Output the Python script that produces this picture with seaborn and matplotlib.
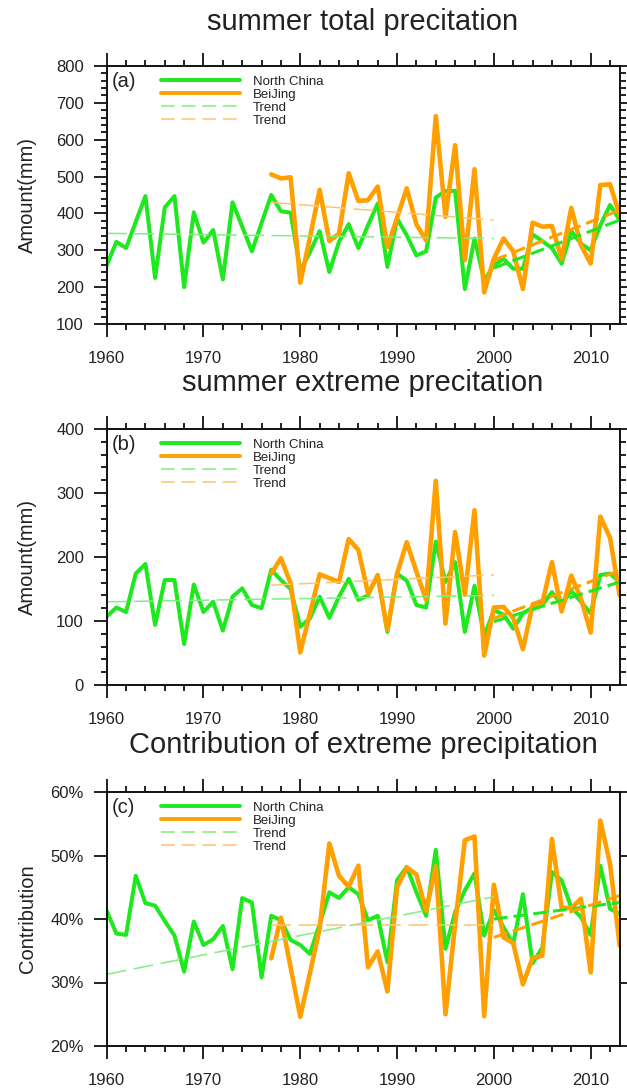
import matplotlib

matplotlib.use("Agg")

import matplotlib.pyplot as plt
import pandas as pd
import seaborn as sns
from matplotlib.lines import Line2D
from matplotlib.ticker import FuncFormatter, MultipleLocator, NullLocator

GREEN = "#1ee81e"
ORANGE = "#ffa000"
LIGHT_GREEN = "#80ee80"
LIGHT_ORANGE = "#ffc470"
TEXT = "#222222"

YEARS_NC = list(range(1960, 2014))
YEARS_BJ = list(range(1977, 2014))

TOTAL_NC = [259, 323, 306, 377, 447, 225, 416, 447, 200, 403,
            321, 355, 221, 430, 364, 297, 374, 450, 406, 402,
            245, 295, 352, 241, 323, 371, 306, 368, 427, 255,
            386, 341, 286, 297, 443, 461, 461, 195, 332, 218,
            259, 277, 250, 250, 343, 325, 306, 264, 352, 318,
            300, 368, 423, 382]
TOTAL_BJ = [506, 495, 498,
            212, 335, 464, 325, 345, 509, 434, 436, 473, 309,
            388, 468, 370, 327, 664, 391, 585, 273, 520, 186,
            277, 332, 297, 195, 375, 364, 366, 277, 415, 314,
            264, 477, 479, 395]

EXTREME_NC = [107, 121, 114, 174, 189, 94, 164, 164, 64, 157,
              114, 130, 85, 138, 151, 125, 120, 180, 164, 150,
              91, 104, 138, 105, 138, 166, 133, 140, 172, 83,
              174, 163, 125, 121, 224, 161, 192, 83, 155, 76,
              117, 110, 88, 112, 121, 125, 145, 126, 147, 130,
              112, 172, 174, 161]
EXTREME_BJ = [174, 198, 159,
              51, 112, 173, 167, 161, 228, 211, 143, 171, 86,
              174, 223, 177, 133, 319, 96, 239, 141, 273, 46,
              121, 122, 105, 56, 125, 128, 192, 115, 171, 135,
              82, 263, 230, 140]

CONTRIB_NC = [41.3, 37.7, 37.5, 46.8, 42.5, 42.1, 39.7, 37.4, 31.7, 39.6,
              35.9, 36.8, 38.9, 32.1, 43.3, 42.6, 30.8, 40.5, 39.8, 36.7,
              35.9, 34.5, 39.2, 44.2, 43.3, 45.0, 43.9, 39.8, 40.5, 33.2,
              46.1, 48.2, 44.2, 40.5, 50.9, 35.3, 41.1, 44.5, 47.2, 37.4,
              41.4, 38.7, 36.1, 43.9, 33.0, 35.5, 47.4, 46.1, 41.8, 40.3,
              37.5, 48.4, 41.6, 40.8]
CONTRIB_BJ = [33.8, 40.2, 32.4,
              24.6, 31.5, 38.5, 51.9, 46.8, 45.1, 48.4, 32.4, 34.9, 28.6,
              45.0, 48.1, 47.0, 41.3, 48.3, 25.0, 39.2, 52.4, 53.0, 24.7,
              45.4, 37.1, 36.2, 29.7, 33.9, 34.2, 52.6, 41.8, 41.7, 43.2,
              31.6, 55.5, 48.7, 35.8]

# trend segments: (start year, end year, start value, end value)
TOTAL_TRENDS = {"nc1": (1960, 2000, 346, 332), "bj1": (1977, 2000, 430, 382),
                "nc2": (2000, 2013, 252, 382), "bj2": (2000, 2013, 273, 409)}
EXTREME_TRENDS = {"nc1": (1960, 2000, 130, 140), "bj1": (1977, 2000, 156, 172),
                  "nc2": (2000, 2013, 99, 161), "bj2": (2000, 2013, 104, 179)}
CONTRIB_TRENDS = {"nc1": (1960, 2000, 31.3, 43.5), "bj1": (1977, 2000, 39.1, 39.1),
                  "nc2": (2000, 2013, 40.0, 42.6), "bj2": (2000, 2013, 37.1, 43.7)}

TITLES = ["summer total precitation", "summer extreme precitation",
          "Contribution of extreme precipitation"]
YLABELS = ["Amount(mm)", "Amount(mm)", "Contribution"]
PANEL_LABELS = ["(a)", "(b)", "(c)"]
XTICKS = [1960, 1970, 1980, 1990, 2000, 2010]


def draw_panel(ax, nc, bj, trends, ylim, ymajor, yminor, percent=False):
    nc_df = pd.DataFrame({"year": YEARS_NC, "value": nc})
    bj_df = pd.DataFrame({"year": YEARS_BJ, "value": bj})
    sns.lineplot(data=nc_df, x="year", y="value", ax=ax, color=GREEN, lw=2.9)
    sns.lineplot(data=bj_df, x="year", y="value", ax=ax, color=ORANGE, lw=3.3)

    styles = {
        "nc1": dict(color=LIGHT_GREEN, lw=1.1, dashes=(13, 5)),
        "bj1": dict(color=LIGHT_ORANGE, lw=1.1, dashes=(13, 5)),
        "nc2": dict(color=GREEN, lw=2.2, dashes=(4.5, 2)),
        "bj2": dict(color=ORANGE, lw=2.2, dashes=(4.5, 2)),
    }
    for key in ["nc1", "bj1", "nc2", "bj2"]:
        x0, x1, y0, y1 = trends[key]
        ax.plot([x0, x1], [y0, y1], **styles[key])

    ax.set_xlim(1960, 2013)
    ax.set_ylim(*ylim)
    ax.set_xticks(XTICKS)
    ax.xaxis.set_minor_locator(MultipleLocator(2))
    ax.yaxis.set_major_locator(MultipleLocator(ymajor))
    if yminor:
        ax.yaxis.set_minor_locator(MultipleLocator(yminor))
    else:
        ax.yaxis.set_minor_locator(NullLocator())
    if percent:
        ax.yaxis.set_major_formatter(FuncFormatter(lambda v, _: f"{v:.0f}%"))
    ax.set_xlabel("")


def main() -> None:
    sns.set_theme(style="ticks")
    plt.rcParams["font.family"] = ["Liberation Sans", "DejaVu Sans"]
    plt.rcParams["axes.linewidth"] = 1.4
    plt.rcParams["axes.edgecolor"] = "#111111"

    fig = plt.figure(figsize=(6.27, 10.91), dpi=100)
    left, width = 106.7 / 627, 513 / 627
    boxes = [(66, 324), (429, 685), (792, 1046)]

    datasets = [
        (TOTAL_NC, TOTAL_BJ, TOTAL_TRENDS, (100, 800), 100, 20, False),
        (EXTREME_NC, EXTREME_BJ, EXTREME_TRENDS, (0, 400), 100, 20, False),
        (CONTRIB_NC, CONTRIB_BJ, CONTRIB_TRENDS, (20, 60), 10, None, True),
    ]
    title_baselines = [30, 391, 753]

    legend_handles = [
        Line2D([], [], color=GREEN, lw=2.8),
        Line2D([], [], color=ORANGE, lw=2.8),
        Line2D([], [], color=LIGHT_GREEN, lw=1.1, dashes=(9, 4.5)),
        Line2D([], [], color=LIGHT_ORANGE, lw=1.1, dashes=(9, 4.5)),
    ]
    legend_labels = ["North China", "BeiJing", "Trend", "Trend"]

    for i, (top, bottom) in enumerate(boxes):
        ax = fig.add_axes([left, 1 - bottom / 1091, width, (bottom - top) / 1091])
        nc, bj, trends, ylim, ymajor, yminor, percent = datasets[i]
        draw_panel(ax, nc, bj, trends, ylim, ymajor, yminor, percent)

        ax.tick_params(which="both", direction="out", top=True, right=True,
                       width=1.3, colors="#111111", labelcolor=TEXT, labelsize=12)
        ax.tick_params(which="major", length=9.4)
        ax.tick_params(which="minor", length=4.3)
        ax.tick_params(axis="x", which="major", pad=10)
        ax.tick_params(axis="y", which="major", pad=7)

        ax.set_ylabel(YLABELS[i], fontsize=14.5, color=TEXT)
        ax.yaxis.set_label_coords(-0.135, 0.5)

        ax.text(0.01, 0.975, PANEL_LABELS[i], transform=ax.transAxes,
                fontsize=14.5, color=TEXT, va="top", ha="left")

        ax.legend(legend_handles, legend_labels, loc="upper left",
                  bbox_to_anchor=(0.085, 1.005), frameon=False, fontsize=9.5,
                  handlelength=6.0, handletextpad=1.0, labelspacing=0.06,
                  borderpad=0.3, labelcolor=TEXT)

        fig.text(363 / 627, 1 - title_baselines[i] / 1091, TITLES[i],
                 ha="center", va="baseline", fontsize=21, color=TEXT)

    fig.savefig("out.png", dpi=100)
    plt.close(fig)


if __name__ == "__main__":
    main()
